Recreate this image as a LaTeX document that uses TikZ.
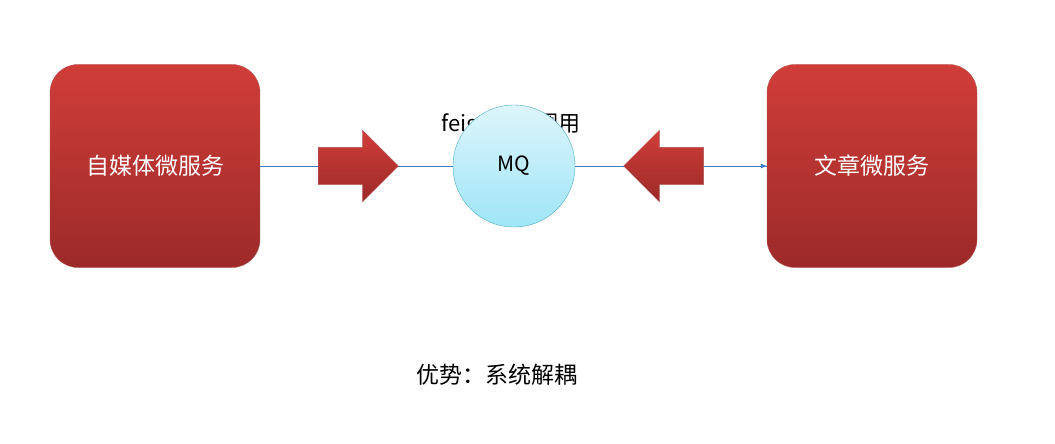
\documentclass[tikz,border=0pt]{standalone}
\usepackage{fontspec}
\setmainfont{Noto Sans CJK SC}
\usetikzlibrary{shapes.arrows,arrows.meta}
\definecolor{boxtop}{HTML}{D03D39}
\definecolor{boxbot}{HTML}{9C2A29}
\definecolor{mqtop}{HTML}{DDF5FA}
\definecolor{mqbot}{HTML}{9FE5F8}
\definecolor{mqline}{HTML}{4BACC6}
\definecolor{link}{HTML}{3C7DC4}
\tikzset{
  service/.style={rounded corners=28pt,minimum width=210pt,minimum height=203pt,
    top color=boxtop,bottom color=boxbot,draw=boxbot!80,text=white,font=\fontsize{23}{26}\selectfont},
  queue/.style={circle,minimum size=122pt,top color=mqtop,bottom color=mqbot,draw=mqline,font=\fontsize{21}{24}\selectfont},
  push/.style={single arrow,minimum height=80pt,text height=37pt,text width=0pt,inner sep=0pt,
    single arrow head extend=17pt,single arrow tip angle=90,
    top color=boxtop,bottom color=boxbot,draw=boxbot!80}
}
\begin{document}
\begin{tikzpicture}[x=1pt,y=-1pt]
\useasboundingbox (0,0) rectangle (1055,444);

\node[service] (media) at (155,166) {自媒体微服务};
\node[service] (article) at (872,166) {文章微服务};
\node[font=\fontsize{22}{26}\selectfont] (feign) at (511,125) {feign远程调用};
\draw[link] (media.east) -- (article.west);
\draw[link,-{Latex[length=6pt,width=5pt]}] (700,166) -- (article.west);
\node[queue] (mq) at (514,166) {MQ};
\node[push] (toq) at (349,166) {};
\node[push,shape border rotate=180] (fromq) at (673,166) {};
\node[font=\fontsize{23}{26}\selectfont] (gain) at (497,375) {优势：系统解耦};
\end{tikzpicture}
\end{document}
